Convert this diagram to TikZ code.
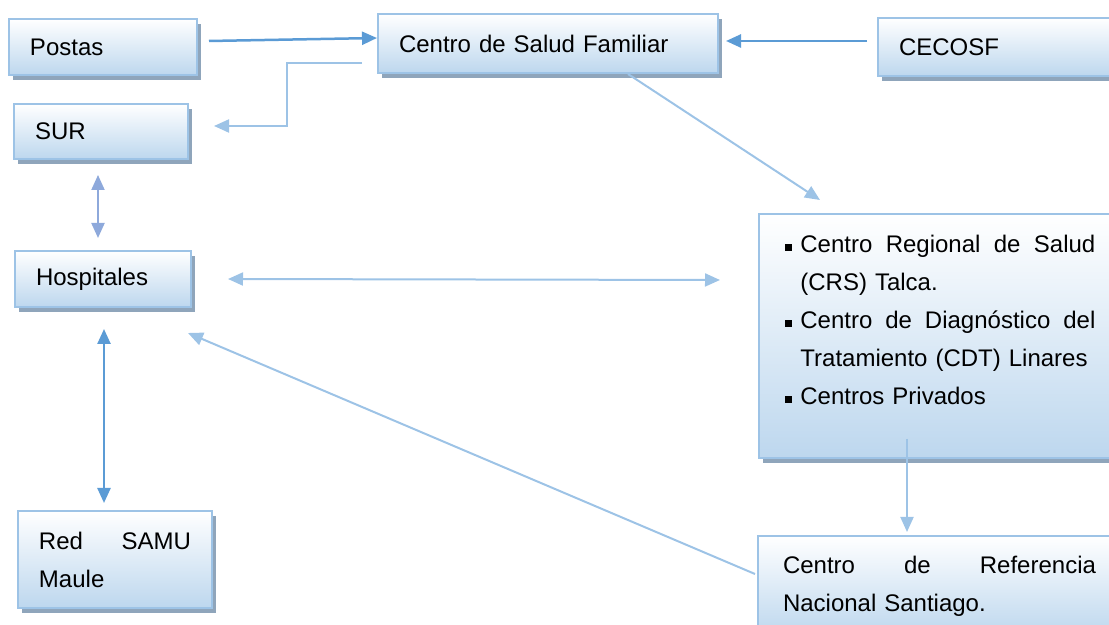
\documentclass[tikz,border=0pt]{standalone}
\usepackage{fontspec}
\setmainfont{Liberation Sans}
\usepackage{tikz}
\usetikzlibrary{arrows.meta,shadows}

\definecolor{borde}{HTML}{9DC3E6}
\definecolor{relleno}{HTML}{BDD7EE}
\definecolor{sombra}{HTML}{8FA5BB}
\definecolor{oscuro}{HTML}{5B9BD5}
\definecolor{claro}{HTML}{9DC3E6}
\definecolor{lila}{HTML}{8EA9DB}

\newcommand{\cuadro}{\makebox[7.5pt][l]{\rule[1pt]{3.5pt}{3.5pt}}}

\begin{document}
\begin{tikzpicture}[x=0.5pt,y=-0.5pt,
		caja/.style={draw=borde, line width=1pt, top color=white, bottom color=relleno,
			drop shadow={shadow xshift=2pt, shadow yshift=-2.5pt, fill=sombra, opacity=1},
			anchor=north west, align=left, inner xsep=10.5pt, inner ysep=0pt,
			font=\fontsize{12}{19}\selectfont},
		punta/.tip={Triangle[length=7.5pt,width=6.5pt]},
		flecha/.style={line width=1pt, claro, -punta}]
		\useasboundingbox (0,0) rectangle (1109,625);

		% Cajas
		\node[caja, text width=73pt, minimum height=28pt] (postas) at (8,18) {Postas};
		\node[caja, text width=149pt, minimum height=29.5pt] (csf) at (377,13) {Centro de Salud Familiar};
		\node[caja, text width=120pt, minimum height=29pt] (cecosf) at (877,17) {CECOSF};
		\node[caja, text width=66pt, minimum height=27.5pt] (sur) at (13,103) {SUR};
		\node[caja, text width=67pt, minimum height=28pt] (hosp) at (14,250) {Hospitales};
		\node[caja, text width=76pt, minimum height=48.5pt] (samu) at (17,510)
			{\hbox to 76pt{Red\hfill SAMU}\\Maule};
		\node[caja, minimum width=190pt, minimum height=122pt] (crs) at (758,213) {};
		\node[anchor=north west, inner sep=0pt, text width=155pt, align=left,
			font=\fontsize{12}{19}\selectfont] (crstexto) at ([xshift=13.5pt,yshift=-11pt]crs.north west)
			{\cuadro\hbox to 147.5pt{Centro\hfill Regional\hfill de\hfill Salud}\\
			\hspace*{7.5pt}(CRS) Talca.\\
			\cuadro\hbox to 147.5pt{Centro\hfill de\hfill Diagnóstico\hfill del}\\
			\hspace*{7.5pt}Tratamiento (CDT) Linares\\
			\cuadro Centros Privados};
		\node[caja, inner xsep=12.5pt, text width=156.5pt, minimum height=50pt] (ref) at (757,535)
			{\hbox to 156.5pt{Centro\hfill de\hfill Referencia}\\Nacional Santiago.};

		% Flechas
		\draw[flecha, oscuro, line width=1.25pt] ([xshift=5.5pt,yshift=3pt]postas.east) -- ([yshift=2.75pt]csf.west);
		\draw[flecha, oscuro, line width=1.25pt] ([xshift=-5pt,yshift=3pt]cecosf.west) -- ([xshift=3.5pt,yshift=1.25pt]csf.east);
		\draw[flecha] ([xshift=-7.5pt,yshift=-9.75pt]csf.west) -- ++(-37.5pt,0) |- ([xshift=12.5pt,yshift=2.75pt]sur.east);
		\draw[flecha, lila, punta-punta] ([xshift=-1.5pt,yshift=-7.5pt]sur.south) -- ([xshift=-2.5pt,yshift=6pt]hosp.north);
		\draw[flecha, punta-punta] ([xshift=18pt]hosp.east) -- ([xshift=-19pt,yshift=28pt]crs.west);
		\draw[flecha, oscuro, line width=1.25pt, punta-punta] ([xshift=0.5pt,yshift=-10.5pt]hosp.south) -- ([xshift=-5.5pt,yshift=3.5pt]samu.north);
		\draw[flecha] ([xshift=40pt]csf.south) -- ([xshift=31pt,yshift=6.5pt]crs.north west);
		\draw[flecha] ([xshift=74.5pt,yshift=10pt]crs.south west) -- ([xshift=75pt,yshift=1.5pt]ref.north west);
		\draw[flecha] ([xshift=-1pt,yshift=6pt]ref.west) -- ([xshift=-2pt,yshift=-12.5pt]hosp.south east);
	\end{tikzpicture}
\end{document}
